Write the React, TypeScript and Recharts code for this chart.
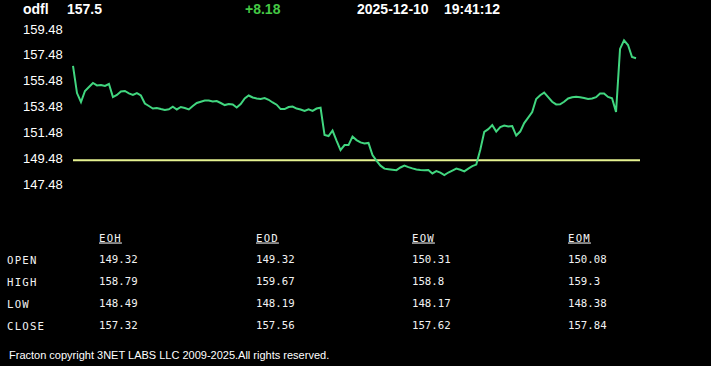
import React from 'react';
import { LineChart, Line, XAxis, YAxis, ReferenceLine } from 'recharts';

const symbol = 'odfl';
const lastPrice = '157.5';
const change = '+8.18';
const dateStr = '2025-12-10';
const timeStr = '19:41:12';
const prevClose = 149.32;
const yTicks = [147.48, 149.48, 151.48, 153.48, 155.48, 157.48, 159.48];

const prices = [
  156.62, 154.52, 153.83, 154.68, 154.99, 155.30, 155.11, 155.14, 155.07, 155.22,
  154.21, 154.37, 154.64, 154.68, 154.49, 154.37, 154.52, 154.33, 153.71, 153.52,
  153.32, 153.36, 153.28, 153.21, 153.26, 153.46, 153.25, 153.44, 153.36, 153.25,
  153.52, 153.75, 153.85, 153.94, 153.94, 153.86, 153.90, 153.75, 153.59, 153.67,
  153.63, 153.40, 153.67, 154.10, 154.33, 154.18, 154.10, 154.07, 154.14, 154.00,
  153.79, 153.62, 153.28, 153.28, 153.44, 153.48, 153.32, 153.25, 153.13, 153.26,
  153.14, 153.32, 153.38, 151.27, 151.19, 151.62, 150.84, 150.11, 150.49, 150.49,
  151.15, 150.88, 150.70, 150.62, 150.66, 149.72, 149.29, 148.90, 148.67, 148.63,
  148.59, 148.55, 148.76, 148.90, 148.79, 148.69, 148.61, 148.57, 148.55, 148.57,
  148.30, 148.48, 148.36, 148.17, 148.37, 148.52, 148.67, 148.58, 148.46, 148.67,
  148.86, 148.98, 150.14, 151.52, 151.73, 152.04, 151.54, 151.89, 152.00, 151.93,
  151.97, 151.23, 151.54, 152.20, 152.62, 153.05, 154.06, 154.35, 154.55, 154.20,
  153.85, 153.64, 153.65, 153.85, 154.10, 154.19, 154.23, 154.20, 154.14, 154.06,
  154.10, 154.20, 154.48, 154.49, 154.22, 154.12, 153.05, 157.94, 158.60, 158.24,
  157.31, 157.21,
];

const periods = ['EOH', 'EOD', 'EOW', 'EOM'];
const rowLabels = ['OPEN', 'HIGH', 'LOW', 'CLOSE'];
const openVals = ['149.32', '149.32', '150.31', '150.08'];
const highVals = ['158.79', '159.67', '158.8', '159.3'];
const lowVals = ['148.49', '148.19', '148.17', '148.38'];
const closeVals = ['157.32', '157.56', '157.62', '157.84'];
const footer = 'Fracton copyright 3NET LABS LLC 2009-2025.All rights reserved.';

const data = prices.map((p, i) => ({ i, p }));
const tableRows = [openVals, highVals, lowVals, closeVals];

const colX = [99, 256, 412, 568];
const rowY = [262.5, 284.5, 306.5, 328.5];

const sans = '"Liberation Sans", Arial, sans-serif';
const mono = '"DejaVu Sans Mono", "Liberation Mono", monospace';

const YTick = (props: any) => {
  const { y, payload } = props;
  return (
    <text x={23} y={y} dy="0.355em" textAnchor="start" fill="#ffffff" fontSize={13} fontFamily={sans}>
      {Number(payload.value).toFixed(2)}
    </text>
  );
};

export default function App() {
  return (
    <div style={{ position: 'fixed', left: 0, top: 0, width: 711, height: 366, background: '#000', overflow: 'hidden' }}>
      <div style={{ position: 'absolute', left: 0, top: 0 }}>
        <LineChart width={711} height={200} data={data} margin={{ top: 29, right: 71, bottom: 16, left: 0 }}>
          <XAxis type="number" dataKey="i" domain={[0, 142]} hide />
          <YAxis
            width={73}
            domain={[147.48, 159.48]}
            ticks={yTicks}
            interval={0}
            axisLine={false}
            tickLine={false}
            allowDataOverflow
            tick={<YTick />}
          />
          <ReferenceLine y={prevClose} stroke="#e6f291" strokeWidth={2} ifOverflow="extendDomain" />
          <Line type="linear" dataKey="p" stroke="#41d67f" strokeWidth={2} dot={false} isAnimationActive={false} />
        </LineChart>
      </div>
      <svg width={711} height={366} style={{ position: 'absolute', left: 0, top: 0, pointerEvents: 'none' }}>
        <g fontFamily={sans} fontWeight="bold" fontSize={14}>
          <text x={23} y={14} fill="#ffffff">{symbol}</text>
          <text x={67} y={14} fill="#ffffff">{lastPrice}</text>
          <text x={245} y={14} fill="#45c845">{change}</text>
          <text x={357} y={14} fill="#ffffff">{dateStr}</text>
          <text x={444} y={14} fill="#ffffff">{timeStr}</text>
        </g>
        <g fontFamily={mono} fontSize={10.7} fill="#f2f2f2">
          {periods.map((p, k) => (
            <text key={p} x={colX[k]} y={241.5} letterSpacing={1.2} textDecoration="underline">{p}</text>
          ))}
          {rowLabels.map((r, k) => (
            <text key={r} x={7} y={rowY[k] + 1} letterSpacing={1.2}>{r}</text>
          ))}
          {tableRows.map((row, r) =>
            row.map((v, c) => (
              <text key={`${r}-${c}`} x={colX[c]} y={rowY[r]}>{v}</text>
            ))
          )}
        </g>
        <text x={9} y={359} fill="#ffffff" fontFamily={sans} fontSize={11}>{footer}</text>
      </svg>
    </div>
  );
}
